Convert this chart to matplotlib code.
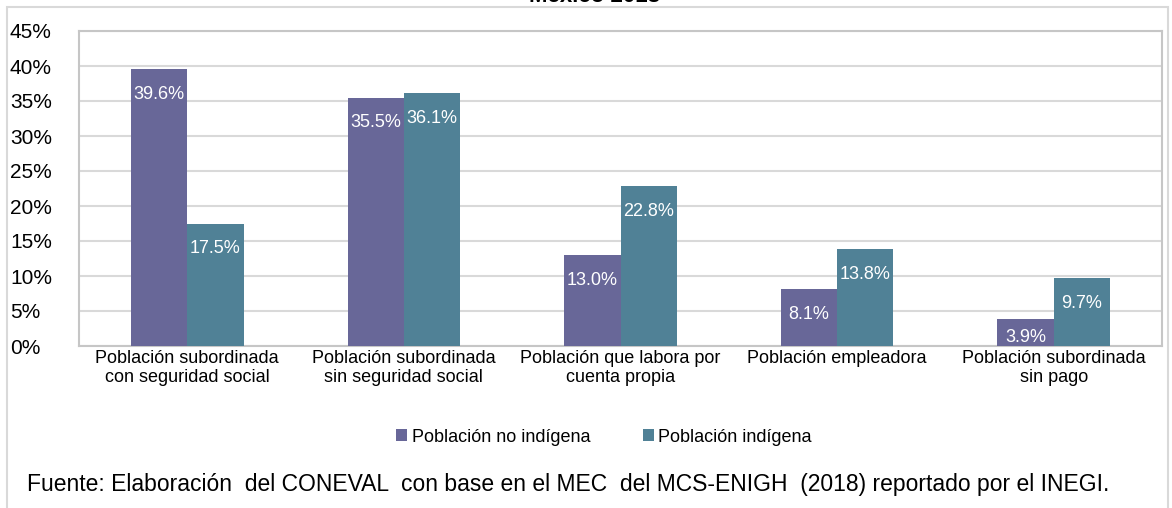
import matplotlib.pyplot as plt
import numpy as np

plt.rcParams['font.family'] = ['Liberation Sans', 'DejaVu Sans']

# Datos (porcentaje de la población ocupada)
categorias = ['Población subordinada\ncon seguridad social',
              'Población subordinada\nsin seguridad social',
              'Población que labora por\ncuenta propia',
              'Población empleadora',
              'Población subordinada\nsin pago']
no_indigena = [39.6, 35.5, 13.0, 8.1, 3.9]
indigena = [17.5, 36.1, 22.8, 13.8, 9.7]
series = ['Población no indígena', 'Población indígena']
y_ticks = [0, 5, 10, 15, 20, 25, 30, 35, 40, 45]

color_no = '#686798'
color_ind = '#508196'
gris = '#C6C6C6'

fig = plt.figure(figsize=(11.72, 5.08), dpi=100)
ax = fig.add_axes([79 / 1172, 1 - 346 / 508, (1162 - 79) / 1172, (346 - 31) / 508])

x = np.arange(len(categorias))
ancho = 0.26
b1 = ax.bar(x - ancho / 2, no_indigena, ancho, color=color_no, label=series[0], zorder=3)
b2 = ax.bar(x + ancho / 2, indigena, ancho, color=color_ind, label=series[1], zorder=3)

# Etiquetas de datos dentro de las barras
for barras, valores in [(b1, no_indigena), (b2, indigena)]:
    for b, v in zip(barras, valores):
        y_txt = max(v - 4.25, 0.6)
        ax.text(b.get_x() + b.get_width() / 2, y_txt, f'{v:.1f}%', color='white',
                ha='center', va='baseline', fontsize=13, zorder=4)

ax.set_xlim(-0.5, len(categorias) - 0.5)
ax.set_ylim(0, 45)
ax.set_yticks(y_ticks)
ax.set_yticklabels([f'{t}%' for t in y_ticks], fontsize=15, ha='left')
ax.tick_params(axis='y', length=0, pad=49.7)
ax.set_xticks(x)
ax.set_xticklabels(categorias, fontsize=13, linespacing=1.15)
ax.tick_params(axis='x', length=0, pad=3)

ax.grid(axis='y', color='#D9D9D9', linewidth=1.5, zorder=0)
for s in ax.spines.values():
    s.set_color(gris)
    s.set_linewidth(1.5)

# Marco exterior del gráfico
marco = plt.Rectangle((7 / 1172, -0.05), (1168 - 7) / 1172, 1.05 - 7 / 508,
                      transform=fig.transFigure, fill=False, edgecolor='#D9D9D9',
                      linewidth=1.5)
fig.patches.append(marco)

# Título (cortado en la parte superior, como en el original)
fig.text(595 / 1172, 1 - 2 / 508, 'México 2018', ha='center', va='baseline',
         fontsize=16, fontweight='bold')

# Leyenda
fig.legend(handles=[b1, b2], labels=series, loc='center', ncol=2,
           bbox_to_anchor=(604 / 1172, 1 - 437 / 508), frameon=False, fontsize=13,
           handlelength=0.6, handleheight=0.6, handletextpad=0.25, columnspacing=2.9)

# Fuente
fig.text(27 / 1172, 1 - 485 / 508,
         'Fuente: Elaboración  del CONEVAL  con base en el MEC  del MCS-ENIGH  (2018) reportado por el INEGI.',
         ha='left', va='center', fontsize=16.5)

fig.savefig('out.png', dpi=100)
